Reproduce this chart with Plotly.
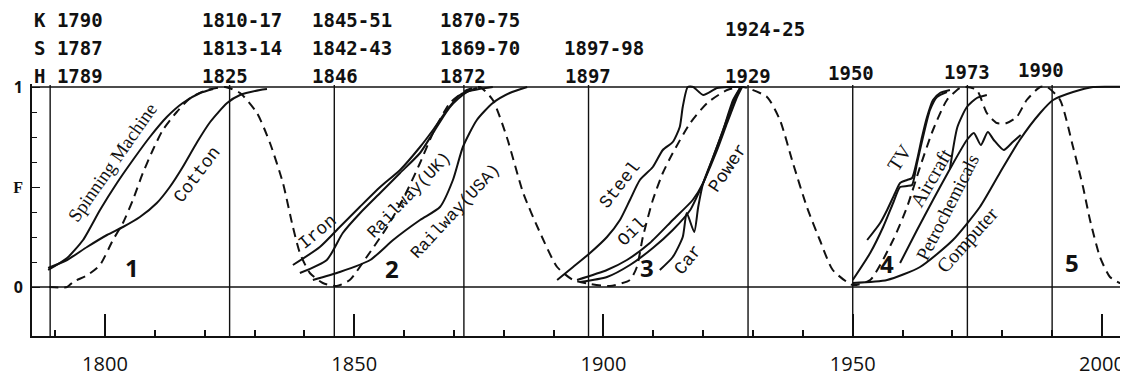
import plotly.graph_objects as go

# ---------------- data ----------------
# Long wave (dashed)
wave_year = [1788.8, 1792.4, 1793.6, 1796.5, 1799.0, 1801.6, 1803.6, 1805.6, 1807.6, 1809.6, 1811.6,
             1814.4, 1817.1, 1820.5, 1824.1, 1827.1, 1830.5, 1833.1, 1835.7, 1837.7, 1839.1, 1841.1,
             1843.7, 1846.5, 1849.1, 1852.5, 1856.6, 1860.0, 1863.2, 1865.8, 1869.2, 1872.6, 1875.2,
             1877.8, 1880.6, 1883.9, 1887.3, 1890.7, 1893.9, 1897.3, 1901.3, 1905.3, 1906.7, 1907.9,
             1909.9, 1911.9, 1913.9, 1917.4, 1920.8, 1924.8, 1928.0, 1932.8, 1935.4, 1938.0, 1940.8,
             1943.4, 1946.0, 1950.0, 1953.5, 1958.1, 1960.9, 1963.5, 1966.1, 1968.9, 1971.5, 1972.9,
             1974.9, 1976.9, 1978.9, 1980.9, 1982.9, 1984.9, 1987.6, 1989.0, 1991.6, 1994.2, 1996.2,
             1997.6, 1999.6, 2001.6, 2003.6, 2005.2]
wave_f = [0.0, 0.0, 0.025, 0.06, 0.11, 0.235, 0.32, 0.435, 0.57, 0.685, 0.785,
          0.875, 0.945, 0.985, 1.0, 0.97, 0.87, 0.72, 0.52, 0.30, 0.17, 0.07,
          0.02, 0.005, 0.035, 0.15, 0.30, 0.45, 0.62, 0.77, 0.92, 0.985, 1.0,
          0.935, 0.75, 0.47, 0.27, 0.10, 0.035, 0.015, 0.005, 0.035, 0.10, 0.25,
          0.435, 0.57, 0.67, 0.82, 0.92, 0.985, 1.0, 0.95, 0.835, 0.62, 0.40,
          0.235, 0.085, 0.01, 0.035, 0.235, 0.40, 0.60, 0.785, 0.935, 0.995, 1.0,
          0.985, 0.87, 0.82, 0.82, 0.85, 0.935, 1.0, 1.0, 0.935, 0.70, 0.50,
          0.335, 0.15, 0.05, 0.02, 0.015]

# Wave 1
spinning_year = [1788.6, 1792.4, 1795.6, 1799.0, 1802.4, 1805.6, 1809.0, 1812.4, 1815.6, 1819.1, 1821.7]
spinning_f = [0.085, 0.145, 0.235, 0.385, 0.52, 0.635, 0.75, 0.85, 0.92, 0.97, 0.99]
cotton_year = [1788.6, 1792.4, 1796.4, 1800.4, 1803.6, 1807.0, 1810.4, 1813.0, 1815.6, 1818.5, 1821.1,
               1824.5, 1827.1, 1831.1, 1832.5]
cotton_f = [0.095, 0.135, 0.20, 0.26, 0.30, 0.35, 0.42, 0.50, 0.60, 0.725, 0.825,
            0.92, 0.96, 0.985, 0.99]

# Wave 2
iron_year = [1837.7, 1843.1, 1847.1, 1851.1, 1855.2, 1859.2, 1863.2, 1865.8, 1868.6, 1871.2, 1874.6]
iron_f = [0.11, 0.20, 0.30, 0.40, 0.50, 0.585, 0.70, 0.785, 0.885, 0.96, 0.995]
rail_uk_year = [1839.1, 1844.5, 1847.7, 1851.2, 1855.2, 1859.2, 1863.2, 1865.8, 1869.2, 1872.6, 1877.8]
rail_uk_f = [0.07, 0.135, 0.27, 0.37, 0.47, 0.57, 0.67, 0.77, 0.90, 0.975, 1.0]
rail_usa_year = [1841.7, 1847.1, 1853.2, 1857.8, 1863.2, 1867.2, 1869.8, 1871.8, 1874.6, 1877.8, 1881.2, 1884.7]
rail_usa_f = [0.035, 0.075, 0.135, 0.235, 0.335, 0.40, 0.535, 0.70, 0.835, 0.92, 0.97, 1.0]

# Wave 3
steel_year = [1890.7, 1893.9, 1897.3, 1900.7, 1903.3, 1905.3, 1907.3, 1909.9, 1911.9, 1913.9, 1915.3,
              1915.9, 1916.9, 1918.0, 1920.0, 1922.8, 1925.4, 1927.4]
steel_f = [0.035, 0.10, 0.17, 0.25, 0.335, 0.435, 0.535, 0.60, 0.685, 0.725, 0.80,
           0.90, 1.0, 1.0, 0.96, 0.995, 1.0, 1.0]
oil_year = [1894.7, 1900.7, 1904.7, 1909.3, 1913.9, 1917.9, 1920.0, 1922.0, 1924.0, 1926.0, 1927.4]
oil_f = [0.035, 0.085, 0.135, 0.22, 0.335, 0.435, 0.52, 0.65, 0.785, 0.935, 0.995]
power_year = [1895.3, 1900.7, 1905.3, 1909.9, 1913.9, 1917.4, 1920.0, 1922.8, 1924.8, 1926.8, 1927.8]
power_f = [0.025, 0.05, 0.11, 0.195, 0.285, 0.385, 0.52, 0.685, 0.82, 0.95, 1.0]
car_year = [1911.3, 1913.9, 1915.9, 1916.7, 1918.2, 1919.0, 1920.0, 1922.0, 1924.0, 1926.0, 1927.4]
car_f = [0.085, 0.15, 0.25, 0.37, 0.275, 0.40, 0.52, 0.65, 0.785, 0.92, 0.995]

# Wave 4
tv_a_year = [1950.0, 1953.5, 1956.1, 1958.1, 1959.5, 1960.9, 1961.9, 1962.9, 1964.1, 1965.5, 1966.9, 1968.9]
tv_a_f = [0.035, 0.17, 0.30, 0.42, 0.50, 0.505, 0.51, 0.62, 0.75, 0.885, 0.95, 0.975]
tv_b_year = [1952.9, 1955.5, 1956.9, 1958.5, 1959.5, 1960.9, 1961.9, 1962.9, 1963.9, 1964.9, 1966.1, 1967.5, 1969.5]
tv_b_f = [0.235, 0.32, 0.385, 0.47, 0.52, 0.535, 0.545, 0.635, 0.75, 0.85, 0.935, 0.97, 0.985]
aircraft_year = [1969.5, 1971.0, 1972.9, 1974.9, 1976.9]
aircraft_f = [0.59, 0.80, 0.90, 0.945, 0.96]
petro_year = [1959.5, 1962.8, 1966.1, 1969.5, 1972.9, 1974.3, 1975.7, 1977.1, 1978.3, 1980.3, 1982.1, 1983.7]
petro_f = [0.12, 0.28, 0.435, 0.59, 0.735, 0.77, 0.71, 0.775, 0.735, 0.685, 0.725, 0.76]
computer_year = [1950.0, 1956.9, 1963.5, 1970.1, 1975.5, 1979.5, 1983.5, 1987.6, 1990.2, 1994.2, 1998.2, 2005.2]
computer_f = [0.02, 0.035, 0.10, 0.235, 0.40, 0.57, 0.735, 0.87, 0.935, 0.975, 1.0, 1.0]

# Dating rows (Kondratieff, Schumpeter, Haustein)
h_years = [1789, 1825, 1846, 1872, 1897, 1929, 1950, 1973, 1990]
k_text = ["K 1790", "1810-17", "1845-51", "1870-75"]
s_text = ["S 1787", "1813-14", "1842-43", "1869-70", "1897-98"]
h_text = ["H 1789", "1825", "1846", "1872", "1897", "1929"]
h_late_text = ["1950", "1973", "1990"]
wave_numbers = ["1", "2", "3", "4", "5"]

# ---------------- figure ----------------
INK = "#111111"
LW = 2.0
fig = go.Figure()


def solid(xs, ys, name):
    fig.add_trace(go.Scatter(x=xs, y=ys, mode="lines", name=name,
                             line=dict(color=INK, width=LW, shape="spline", smoothing=0.6),
                             cliponaxis=False, hoverinfo="skip"))


fig.add_trace(go.Scatter(x=wave_year, y=wave_f, mode="lines", name="long wave",
                         line=dict(color=INK, width=LW, dash="9px,6px", shape="spline", smoothing=0.6),
                         cliponaxis=False, hoverinfo="skip"))
solid(spinning_year, spinning_f, "Spinning Machine")
solid(cotton_year, cotton_f, "Cotton")
solid(iron_year, iron_f, "Iron")
solid(rail_uk_year, rail_uk_f, "Railway(UK)")
solid(rail_usa_year, rail_usa_f, "Railway(USA)")
solid(steel_year, steel_f, "Steel")
solid(oil_year, oil_f, "Oil")
solid(power_year, power_f, "Power")
solid(car_year, car_f, "Car")
solid(tv_a_year, tv_a_f, "TV")
solid(tv_b_year, tv_b_f, "TV (2)")
solid(aircraft_year, aircraft_f, "Aircraft")
solid(petro_year, petro_f, "Petrochemicals")
solid(computer_year, computer_f, "Computer")

# frame: horizontal lines F=0 and F=1, vertical lines at Haustein dates
for yv in (0, 1):
    fig.add_shape(type="line", xref="paper", yref="y", x0=0, x1=1, y0=yv, y1=yv,
                  line=dict(color=INK, width=1.6))
for hy in h_years:
    fig.add_shape(type="line", xref="x", yref="y", x0=hy, x1=hy, y0=-0.245, y1=1.01,
                  line=dict(color=INK, width=1.4))


# plot area spans page pixels 84..336 vertically
def paper_y(py):
    return (336.0 - py) / 252.0


# top rows of dates
mono = "DejaVu Sans Mono"
tfont = dict(family=mono, size=19, color=INK)


def top(t, x, py, anchor="left"):
    fig.add_annotation(x=x, y=paper_y(py), yref="paper", text="<b>" + t + "</b>", xanchor=anchor,
                       yanchor="middle", showarrow=False, font=tfont)


cols = [1785.4, 1819.1, 1841.1, 1866.8]
for t, x in zip(k_text, cols):
    top(t, x, 20)
for t, x in zip(s_text, cols + [1891.7]):
    top(t, x, 48)
for t, x in zip(h_text, cols + [1891.9, 1924.0]):
    top(t, x, 76)
top("1924-25", 1924.0, 29)
for t, x, py in zip(h_late_text, [1949.7, 1972.9, 1987.8], [73, 72, 70]):
    top(t, x, py, "center")

# curve labels
typew = "Liberation Mono"
serif = "Liberation Serif"
labels = [
    ("Spinning Machine", 1801.4, 0.625, -55, serif, 19),
    ("Cotton", 1818.5, 0.56, -53, typew, 18),
    ("Iron", 1842.7, 0.275, -40, typew, 18),
    ("Railway(UK)", 1861.0, 0.46, -46, typew, 17),
    ("Railway(USA)", 1870.3, 0.38, -47, typew, 17),
    ("Steel", 1903.3, 0.51, -52, typew, 18),
    ("Oil", 1905.7, 0.275, -45, typew, 18),
    ("Car", 1917.0, 0.135, -51, typew, 18),
    ("Power", 1925.0, 0.595, -56, typew, 18),
    ("TV", 1959.3, 0.645, -57, serif, 20),
    ("Aircraft", 1965.8, 0.55, -60, serif, 20),
    ("Petrochemicals", 1968.9, 0.40, -63, serif, 19),
    ("Computer", 1972.9, 0.235, -48, serif, 20),
]
for t, x, y, ang, fam, sz in labels:
    fig.add_annotation(x=x, y=y, text=t, textangle=ang, showarrow=False,
                       font=dict(family=fam, size=sz, color=INK))

for t, x, y in zip(wave_numbers, [1805.4, 1857.6, 1908.7, 1956.9, 1994.0], [0.10, 0.095, 0.10, 0.12, 0.125]):
    fig.add_annotation(x=x, y=y, text="<b>" + t + "</b>", showarrow=False,
                       font=dict(family="Open Sans", size=24, color=INK))

# the page body has an 8px margin: figure occupies page pixels 8..1128 x 8..379
fig.update_layout(
    width=1120, height=371,
    margin=dict(l=24, r=0, t=76, b=43),
    paper_bgcolor="white", plot_bgcolor="white",
    showlegend=False,
    xaxis=dict(range=[1785.36, 2005.22], showgrid=False, zeroline=False,
               showline=True, linecolor=INK, linewidth=1.6,
               tickmode="linear", tick0=1800, dtick=50,
               ticks="inside", ticklen=22, tickwidth=1.6, tickcolor=INK,
               ticklabelstandoff=9,
               tickfont=dict(family="Open Sans", size=20, color=INK),
               minor=dict(dtick=10, tick0=1790, ticks="inside", ticklen=6, tickwidth=1.6, tickcolor=INK)),
    yaxis=dict(range=[-0.245, 1.015], showgrid=False, zeroline=False,
               showline=True, linecolor=INK, linewidth=1.6,
               tickmode="array", tickvals=[0, 0.5, 1],
               ticktext=["<b>0</b>", "<span style='font-family:Liberation Serif'><b>F</b></span>", "<b>1</b>"],
               ticks="inside", ticklen=8, tickwidth=1.3, tickcolor=INK,
               ticklabelstandoff=4,
               tickfont=dict(family="Open Sans", size=16, color=INK),
               minor=dict(tickmode="array", tickvals=[0.125, 0.25, 0.375, 0.625, 0.75, 0.875],
                          ticks="inside", ticklen=5, tickwidth=1.3, tickcolor=INK)),
)

fig.write_html("out.html")
